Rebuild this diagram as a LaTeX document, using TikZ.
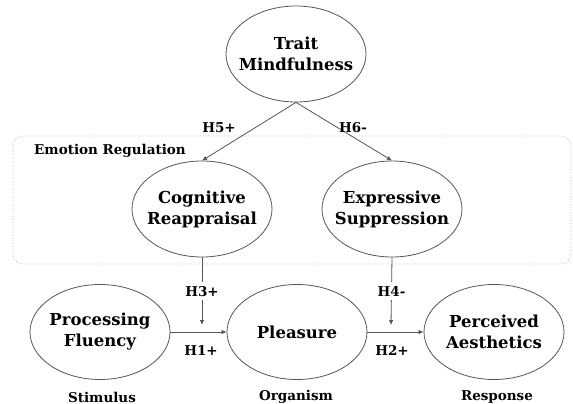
\documentclass[tikz,border=0pt]{standalone}
\usepackage{fontspec}
\setmainfont{DejaVu Serif}
\usetikzlibrary{arrows.meta,shapes.geometric}
\definecolor{linec}{HTML}{555555}
\tikzset{
  x=1pt,y=1pt,
  construct/.style={ellipse,draw=linec,line width=0.8pt,minimum width=140pt,minimum height=96pt,inner xsep=-30pt,inner ysep=-20pt,align=center,font=\fontsize{16.5}{21}\selectfont\bfseries,text=black},
  lbl/.style={font=\fontsize{13.5}{15}\selectfont\bfseries,text=black,inner sep=1pt},
  conn/.style={draw=linec,line width=0.8pt,-{Latex[length=5pt,width=4.5pt]}},
}
\begin{document}
\begin{tikzpicture}
\useasboundingbox (0,0) rectangle (573,-404);
% group box
\draw[gray!70,dotted,line width=0.7pt,rounded corners=10pt] (13,-136) rectangle (571,-264);
\node[lbl] (er) at (110,-151) {Emotion Regulation};
% constructs
\node[construct] (tm) at (296,-54) {Trait\\Mindfulness};
\node[construct] (cr) at (202,-209) {Cognitive\\Reappraisal};
\node[construct] (es) at (392,-209) {Expressive\\Suppression};
\node[construct,minimum height=95pt] (pf) at (100,-332) {Processing\\Fluency};
\node[construct,minimum height=95pt] (pl) at (297,-332) {Pleasure};
\node[construct,minimum height=95pt] (pa) at (494,-332) {Perceived\\Aesthetics};
% SOR labels
\node[lbl] (st) at (102,-397) {Stimulus};
\node[lbl] (or) at (296,-397) {Organism};
\node[lbl] (re) at (497,-397) {Response};
% paths
\draw[conn] (tm.south) -- (cr.north);
\draw[conn] (tm.south) -- (es.north);
\node[lbl] (h5) at (219,-128) {H5+};
\node[lbl] (h6) at (353,-128) {H6-};
\draw[conn] (pf.east) -- (pl.west);
\draw[conn] (pl.east) -- (pa.west);
\node[lbl] (h1) at (201,-350) {H1+};
\node[lbl] (h2) at (392,-350) {H2+};
\coordinate (m1) at (202,-325);
\coordinate (m2) at (391,-325);
\draw[conn] (cr.south) -- node[lbl,fill=white,inner sep=4pt] (h3) {H3+} (m1);
\draw[conn] (es.south) -- node[lbl,fill=white,inner sep=4pt] (h4) {H4-} (m2);
\end{tikzpicture}
\end{document}
